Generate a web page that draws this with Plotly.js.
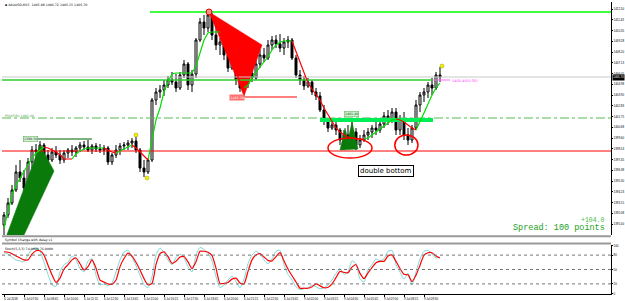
<!DOCTYPE html>
<html><head><meta charset="utf-8">
<script src="https://cdn.plot.ly/plotly-3.0.1.min.js"></script>
<style>html,body{margin:0;padding:0;background:#fff;overflow:hidden}#chart{width:625px;height:301px}</style>
</head><body><div id="chart"></div>
<script>
// ---------------- DATA ----------------
const symbolTitle = 'XAUUSD,M15  1405.08 1406.72 1405.15 1405.70';
const open = [1390.9,1391.9,1393.1,1394.4,1396.2,1395.6,1394.6,1397.2,1398.4,1398.2,
1398.9,1397.9,1397.4,1398.2,1397.9,1397.4,1398.1,1398.4,1398.2,1398.6,
1398.9,1398.7,1398.4,1398.8,1398.5,1398.4,1398.6,1397.2,1397.9,1398.4,
1398.8,1398.9,1399.1,1399.3,1398.4,1396.6,1396.2,1397.4,1403.4,1404.2,
1404.4,1404.9,1405.4,1405.2,1404.6,1405.9,1407.0,1404.9,1406.0,1409.4,
1411.2,1410.6,1411.9,1409.9,1408.9,1409.2,1407.9,1406.6,1407.4,1405.4,
1404.6,1405.0,1406.1,1405.6,1407.0,1407.9,1407.6,1408.9,1409.4,1409.0,
1408.6,1409.2,1409.4,1407.6,1405.9,1405.4,1404.8,1405.2,1404.2,1403.8,
1402.4,1401.4,1400.6,1400.9,1400.4,1399.4,1399.9,1399.4,1400.2,1398.9,
1399.4,1399.9,1400.2,1400.6,1400.4,1401.0,1401.8,1401.4,1402.2,1400.4,
1401.4,1399.9,1399.4,1400.6,1402.9,1403.9,1404.2,1404.9,1404.6,1405.9];
const high = [1392.2,1393.6,1394.9,1396.9,1397.4,1396.4,1397.6,1398.8,1399.0,1399.3,
1399.1,1398.4,1398.6,1398.8,1398.4,1398.4,1398.6,1398.9,1398.8,1399.2,
1399.3,1399.4,1399.0,1399.1,1399.0,1398.9,1398.8,1398.1,1398.9,1399.1,
1399.2,1399.4,1399.6,1399.8,1398.6,1397.4,1397.6,1403.6,1404.6,1404.9,
1405.4,1405.8,1406.2,1406.0,1406.2,1407.4,1407.2,1406.4,1409.6,1411.6,
1411.9,1412.2,1412.1,1410.9,1409.6,1409.9,1408.6,1407.9,1407.6,1406.2,
1405.4,1406.4,1406.9,1407.4,1408.4,1408.6,1409.4,1409.8,1409.9,1410.0,
1409.6,1409.8,1409.6,1407.9,1406.4,1405.8,1405.6,1405.4,1404.6,1404.2,
1402.9,1401.6,1401.4,1401.2,1400.6,1400.4,1400.9,1401.2,1400.6,1399.9,
1400.4,1400.6,1400.9,1401.2,1401.4,1402.2,1402.4,1402.6,1402.6,1401.9,
1402.2,1400.6,1400.9,1403.4,1404.2,1404.6,1405.2,1405.6,1406.2,1406.7];
const low = [1389.9,1391.6,1392.9,1394.2,1395.2,1394.1,1394.4,1396.6,1397.4,1397.9,
1397.6,1396.9,1397.2,1397.6,1397.0,1397.1,1397.6,1397.8,1397.7,1398.2,
1398.4,1398.2,1398.0,1398.2,1398.1,1397.9,1396.9,1396.9,1397.6,1397.9,
1398.4,1398.4,1398.6,1398.1,1396.2,1395.7,1396.0,1397.2,1402.9,1403.6,
1403.8,1404.6,1404.9,1404.2,1404.4,1405.6,1404.4,1404.2,1405.6,1409.2,
1409.9,1410.2,1409.4,1408.4,1407.9,1407.4,1406.2,1406.4,1404.9,1404.2,
1403.7,1404.6,1405.2,1405.4,1406.6,1407.2,1407.4,1408.4,1408.6,1408.2,
1407.9,1408.6,1407.4,1405.6,1404.9,1404.4,1404.6,1403.9,1403.4,1402.2,
1400.9,1400.2,1400.4,1399.9,1398.9,1398.4,1398.9,1398.6,1398.4,1398.6,
1399.2,1399.4,1399.6,1399.9,1400.1,1400.6,1400.9,1401.1,1399.9,1399.9,
1399.4,1398.9,1399.1,1400.4,1402.2,1403.2,1403.6,1403.9,1404.4,1405.2];
const close = [1391.9,1393.1,1394.4,1396.2,1395.6,1394.6,1397.2,1398.4,1398.2,1398.9,
1397.9,1397.4,1398.2,1397.9,1397.4,1398.1,1398.4,1398.2,1398.6,1398.9,
1398.7,1398.4,1398.8,1398.5,1398.4,1398.6,1397.2,1397.9,1398.4,1398.8,
1398.9,1399.1,1399.3,1398.4,1396.6,1396.2,1397.4,1403.4,1404.2,1404.4,
1404.9,1405.4,1405.2,1404.6,1405.9,1407.0,1404.9,1406.0,1409.4,1411.2,
1410.6,1411.9,1409.9,1408.9,1409.2,1407.9,1406.6,1407.4,1405.4,1404.6,
1405.0,1406.1,1405.6,1407.0,1407.9,1407.6,1408.9,1409.4,1409.0,1408.6,
1409.2,1409.4,1407.6,1405.9,1405.4,1404.8,1405.2,1404.2,1403.8,1402.4,
1401.4,1400.6,1400.9,1400.4,1399.4,1399.9,1399.4,1400.2,1398.9,1399.4,
1399.9,1400.2,1400.6,1400.4,1401.0,1401.8,1401.4,1402.2,1400.4,1401.4,
1399.9,1399.4,1400.6,1402.9,1403.9,1404.2,1404.9,1404.6,1405.9,1405.7];
// slope-coloured trend indicator
const trendLine = [1390.6,1392.4,1393.9,1394.9,1395.6,1396.2,1396.9,1397.6,1398.1,1398.4,
1398.7,1398.6,1398.4,1398.2,1397.9,1397.5,1397.5,1397.5,1398.0,1398.3,
1398.5,1398.6,1398.6,1398.6,1398.6,1398.6,1398.4,1398.2,1398.1,1398.3,
1398.5,1398.7,1398.9,1398.6,1398.2,1397.8,1397.4,1399.4,1401.4,1402.6,
1404.2,1405.2,1406.0,1406.1,1406.1,1406.1,1406.1,1406.1,1406.8,1408.2,
1409.4,1410.1,1410.2,1410.2,1410.2,1409.4,1408.2,1407.2,1406.2,1405.2,
1404.6,1404.9,1405.6,1406.2,1406.7,1407.2,1407.7,1408.4,1408.9,1409.2,
1409.3,1409.3,1409.3,1408.2,1407.1,1406.1,1405.1,1404.5,1403.9,1403.4,
1402.6,1401.9,1401.2,1400.6,1400.2,1399.9,1399.7,1399.6,1399.5,1399.5,
1399.5,1399.6,1399.9,1400.2,1400.5,1400.8,1401.1,1401.4,1401.5,1401.4,
1401.2,1400.9,1400.6,1400.4,1401.2,1402.1,1403.0,1403.9,1404.6,1405.1];
// Stochastic: main (red) and signal (cyan)
const stochMain = [87,86,83,78,74,70,70,82,89,89,80,59,39,23,32,51,60,70,74,62,
49,56,70,53,28,24,20,19,28,56,73,84,78,65,49,31,18,21,60,83,
87,77,63,67,76,77,66,52,66,88,88,86,79,53,21,21,23,30,32,22,
20,46,70,80,83,76,69,68,77,85,68,51,37,24,11,11,11,14,20,16,
12,13,20,33,46,44,43,55,60,42,31,43,54,64,67,67,78,80,67,52,
40,39,25,38,59,80,85,85,78,74];
const stochSignal = [85,82,76,70,68,66,80,92,95,88,65,40,18,15,45,60,65,78,70,52,
45,68,72,38,18,20,16,22,45,70,86,90,76,58,38,18,12,35,80,95,
85,70,60,75,82,74,56,45,80,96,92,84,68,35,12,18,28,36,25,12,
30,62,80,88,82,70,62,72,88,90,60,40,28,14,8,10,12,18,14,10,
12,18,28,42,52,40,45,68,62,30,24,50,60,72,68,72,88,90,60,45,
30,42,18,45,72,88,90,82,74,76];
const stochTicks = [0,20,50,80,100];
const stochLevels = [20,50,80];
const priceTicks = [1412.50,1411.43,1410.35,1409.28,1408.20,1407.13,1406.05,1404.98,1403.90,1402.83,
1401.75,1400.68,1399.60,1398.53,1397.45,1396.38,1395.30,1394.23,1393.15,1392.08,1391.00];
const timeTickBars = [0,5,10,15,20,25,30,35,40,45,50,55,60,65,70,75,80,85,90,95,100,105];
const timeTickLabels = ['6 Jul 2018','6 Jul 07:30','6 Jul 08:45','6 Jul 10:00','6 Jul 11:15','6 Jul 12:30',
'6 Jul 13:45','6 Jul 15:00','6 Jul 16:15','6 Jul 17:30','6 Jul 18:45','6 Jul 20:00','6 Jul 21:15',
'6 Jul 22:30','6 Jul 23:45','9 Jul 02:00','9 Jul 03:15','9 Jul 04:30','9 Jul 05:45','9 Jul 07:00',
'9 Jul 08:15','9 Jul 09:30'];
// horizontal levels (null = whole width)
const levelPrice = [1412.2, 1405.4, 1401.6, 1398.3, 1399.5, 1403.7, 1401.4, 1405.4, 1405.7];
const levelFromBar = [36.5, null, null, null, 4.75, 60.25, 79, 107.25, null];
const levelToBar = [null, 107.25, null, null, 22, 73.25, 107.25, 111.5, null];
// harmonic pattern vertices
const bullPatternBars = [-15.25, 9, 12.5];
const bullPatternPrices = [1372.6, 1398.9, 1396.3];
const bearPatternBars = [51.25, 64.5, 60];
const bearPatternPrices = [1412.2, 1408.9, 1403.8];
const bull2PatternBars = [84, 85.25, 86, 87, 88.5];
const bull2PatternPrices = [1398.4, 1400.6, 1399.4, 1401.2, 1398.5];
// fractal dots
const fractalBars = [33, 35.75, 109.5];
const fractalPrices = [1399.9, 1395.6, 1406.8];
// hand-circled bottoms
const circledBars = [86.5, 100.6];
const circledPrices = [1398.6, 1398.9];
// label texts
const labelBars = [4.75, 60.25, 85, 111.5];
const labelPrices = [1399.5, 1403.7, 1401.7, 1405.3];
const labelTexts = ['1399.50', '1403.70', '1401.40', '1405.40(0.30)'];
const noteBar = 95.5, notePrice = 1396.3, noteText = 'double bottom';

// ---------------- GEOMETRY / STYLE ----------------
const xMin = -0.5, xMax = 151.75;
const n = close.length;
const bars = Array.from({length: n}, (_, i) => i);
const traces = [];

function poly(bx, py, color) {
  traces.push({type:'scatter', mode:'lines', x: bx.concat([bx[0]]), y: py.concat([py[0]]),
    fill:'toself', fillcolor: color, line:{color: color, width: 0.5},
    xaxis:'x', yaxis:'y', hoverinfo:'skip', showlegend:false});
}
poly(bullPatternBars, bullPatternPrices, '#0a7a0a');
poly(bearPatternBars, bearPatternPrices, '#ff0000');
poly(bull2PatternBars, bull2PatternPrices, '#0a7a0a');

const levelStyle = [
  {c:'#00ff00', w:1.5, d:'solid'}, {c:'#2ccc2c', w:1.5, d:'solid'}, {c:'#55bb55', w:1, d:'dashdot'},
  {c:'#ff0000', w:1, d:'solid'}, {c:'#006400', w:1, d:'solid'}, {c:'#ff0000', w:1, d:'solid'},
  {c:'#00ee55', w:4, d:'solid'}, {c:'#ff66ff', w:1, d:'solid'}, {c:'#c8c8c8', w:1, d:'solid'}];
levelPrice.forEach((p, k) => {
  const a = levelFromBar[k] === null ? xMin : levelFromBar[k];
  const b = levelToBar[k] === null ? xMax : levelToBar[k];
  traces.push({type:'scatter', mode:'lines', x:[a, b], y:[p, p], xaxis:'x', yaxis:'y',
    line:{color: levelStyle[k].c, width: levelStyle[k].w, dash: levelStyle[k].d},
    hoverinfo:'skip', showlegend:false});
});

traces.push({type:'candlestick', x: bars, open, high, low, close, xaxis:'x', yaxis:'y',
  increasing:{line:{color:'#000', width:1}, fillcolor:'#ffffff'},
  decreasing:{line:{color:'#000', width:1}, fillcolor:'#000000'},
  whiskerwidth: 0, hoverinfo:'skip', showlegend:false});

// trend line split by slope
(function(){
  const g = {x:[], y:[]}, r = {x:[], y:[]};
  let dir = 1, cur = null;
  for (let i = 0; i < n - 1; i++) {
    const d = trendLine[i+1] - trendLine[i];
    if (d > 0) dir = 1; else if (d < 0) dir = -1;
    const t = dir > 0 ? g : r;
    if (cur !== t) { t.x.push(null, i); t.y.push(null, trendLine[i]); cur = t; }
    t.x.push(i + 1); t.y.push(trendLine[i + 1]);
  }
  [[g, '#00dd00'], [r, '#ff0000']].forEach(([s, c]) => traces.push({type:'scatter', mode:'lines',
    x: s.x, y: s.y, xaxis:'x', yaxis:'y', line:{color: c, width: 1.2}, connectgaps:false,
    hoverinfo:'skip', showlegend:false}));
})();

traces.push({type:'scatter', mode:'markers', x: fractalBars, y: fractalPrices, xaxis:'x', yaxis:'y',
  marker:{size:4, color:'#f5f000', line:{color:'#a0a000', width:0.5}}, hoverinfo:'skip', showlegend:false});
traces.push({type:'scatter', mode:'markers', x:[bearPatternBars[0]], y:[bearPatternPrices[0]], xaxis:'x', yaxis:'y',
  marker:{size:6, color:'rgba(255,140,140,0.9)', line:{color:'#e00000', width:1}}, hoverinfo:'skip', showlegend:false});

// stochastic
traces.push({type:'scatter', mode:'lines', x: bars, y: stochSignal, xaxis:'x', yaxis:'y3',
  line:{color:'#7fd8d8', width:1, shape:'spline', smoothing:0.6}, hoverinfo:'skip', showlegend:false});
traces.push({type:'scatter', mode:'lines', x: bars, y: stochMain, xaxis:'x', yaxis:'y3',
  line:{color:'#ff0000', width:1.2, shape:'spline', smoothing:0.6}, hoverinfo:'skip', showlegend:false});
stochLevels.forEach(v => traces.push({type:'scatter', mode:'lines', x:[xMin, xMax], y:[v, v], xaxis:'x', yaxis:'y3',
  line:{color:'#777', width:1, dash:'dot'}, hoverinfo:'skip', showlegend:false}));

const py = p => (294 - p) / 292; // pixel row -> paper
const tickFont = {family:'Liberation Sans', size:2.9, color:'#000'};
const shapes = [];
circledBars.forEach((b, k) => {
  const hw = k === 0 ? 5.5 : 2.9, hh = 1.0;
  shapes.push({type:'circle', xref:'x', yref:'y', x0: b - hw, x1: b + hw,
    y0: circledPrices[k] - hh, y1: circledPrices[k] + hh, line:{color:'#ff0000', width:1.5}});
});
shapes.push({type:'rect', xref:'paper', yref:'paper', x0:0, x1:1, y0:py(237.3), y1:py(235.3), fillcolor:'#9a9a9a', line:{width:0}});
shapes.push({type:'rect', xref:'paper', yref:'paper', x0:0, x1:1, y0:py(244.5), y1:py(242.5), fillcolor:'#9a9a9a', line:{width:0}});

const annotations = [
  {xref:'paper', yref:'paper', x:0.001, y:py(5.5), xanchor:'left', yanchor:'middle', showarrow:false,
   text:'▪ ' + symbolTitle, font:{family:'DejaVu Sans', size:3.2, color:'#000'}},
  {xref:'paper', yref:'paper', x:0.001, y:py(240), xanchor:'left', yanchor:'middle', showarrow:false,
   text:'Symbol Change with delay v1', font:{family:'DejaVu Sans', size:3.2, color:'#000'}},
  {xref:'paper', yref:'paper', x:0.001, y:py(248.5), xanchor:'left', yanchor:'middle', showarrow:false,
   text:'Stoch(5,3,3) ' + stochMain[n-1].toFixed(4) + ' ' + stochSignal[n-1].toFixed(4), font:{family:'DejaVu Sans', size:3.2, color:'#000'}},
  {xref:'paper', yref:'paper', x:0.001, y:py(116), xanchor:'left', yanchor:'middle', showarrow:false,
   text:'PIVOT/R1 ' + levelPrice[2].toFixed(2), font:{family:'DejaVu Sans', size:3.2, color:'#3a9a3a'}},
  {xref:'x', yref:'y', x: labelBars[0], y: labelPrices[0], xanchor:'left', yanchor:'middle', showarrow:false,
   text: labelTexts[0], bgcolor:'#d6f3d6', bordercolor:'#55aa55', borderwidth:0.5, borderpad:0.5,
   font:{family:'DejaVu Sans', size:3.2, color:'#333'}},
  {xref:'x', yref:'y', x: labelBars[1], y: labelPrices[1], xanchor:'right', yanchor:'middle', showarrow:false,
   text: labelTexts[1], bgcolor:'#ff7070', borderpad:0.5, font:{family:'DejaVu Sans', size:3.2, color:'#fff'}},
  {xref:'x', yref:'y', x: labelBars[2], y: labelPrices[2], xanchor:'left', yanchor:'bottom', showarrow:false,
   text: labelTexts[2], bgcolor:'#c6f6c6', bordercolor:'#55aa55', borderwidth:0.5, borderpad:0.5,
   font:{family:'DejaVu Sans', size:3.2, color:'#333'}},
  {xref:'x', yref:'y', x: labelBars[3], y: labelPrices[3], xanchor:'left', yanchor:'middle', showarrow:false,
   text: labelTexts[3], font:{family:'DejaVu Sans', size:3.6, color:'#ff44ff'}},
  {xref:'x', yref:'y', x: noteBar, y: notePrice, xanchor:'center', yanchor:'middle', showarrow:false,
   text: noteText, bgcolor:'#fff', bordercolor:'#000', borderwidth:1, borderpad:1,
   font:{family:'DejaVu Sans', size:7, color:'#000'}},
  {xref:'paper', yref:'paper', x:0.9934, y:py(225.5), xanchor:'right', yanchor:'bottom', showarrow:false,
   text:'+104.0', font:{family:'Liberation Mono', size:6.5, color:'#44bb44'}},
  {xref:'paper', yref:'paper', x:0.9934, y:py(228.5), xanchor:'right', yanchor:'middle', showarrow:false,
   text:'Spread: 100 points', font:{family:'Liberation Mono', size:8.5, color:'#22a022'}},
  {xref:'paper', yref:'y', x:1.002, y: close[n-1], xanchor:'left', yanchor:'middle', showarrow:false,
   text: close[n-1].toFixed(2), bgcolor:'#000', borderpad:0.3, font:{family:'Liberation Sans', size:2.9, color:'#fff'}}
];

const layout = {
  width:625, height:301, margin:{l:2, r:14, t:2, b:7},
  paper_bgcolor:'#fff', plot_bgcolor:'#fff', showlegend:false,
  xaxis:{range:[xMin, xMax], anchor:'y3', tickvals: timeTickBars, ticktext: timeTickLabels,
    tickfont: tickFont, ticks:'outside', ticklen:2, tickcolor:'#000', showgrid:false, zeroline:false,
    showline:true, linecolor:'#000', linewidth:1, ticklabelshift:7, ticklabelstandoff:0,
    rangeslider:{visible:false}, fixedrange:true},
  yaxis:{domain:[py(235), 1], range:[1389.9, 1413.2], side:'right', anchor:'x', tickvals: priceTicks,
    ticktext: priceTicks.map(v => v.toFixed(2)), tickfont: tickFont, ticks:'outside', ticklen:1,
    ticklabelstandoff:0, tickcolor:'#000', showgrid:false, zeroline:false, showline:true, linecolor:'#000', linewidth:1},
  yaxis2:{domain:[py(242.5), py(237.3)], range:[0,1], side:'right', anchor:'x', showticklabels:false,
    showgrid:false, zeroline:false, showline:true, linecolor:'#000', linewidth:1},
  yaxis3:{domain:[0, py(244.5)], range:[-1.05, 102.1], side:'right', anchor:'x', tickvals: stochTicks,
    tickfont: tickFont, ticks:'outside', ticklen:1, ticklabelstandoff:0, tickcolor:'#000', showgrid:false, zeroline:false,
    showline:true, linecolor:'#000', linewidth:1},
  shapes, annotations
};
Plotly.newPlot('chart', traces, layout, {staticPlot:true, displayModeBar:false});
</script></body></html>
